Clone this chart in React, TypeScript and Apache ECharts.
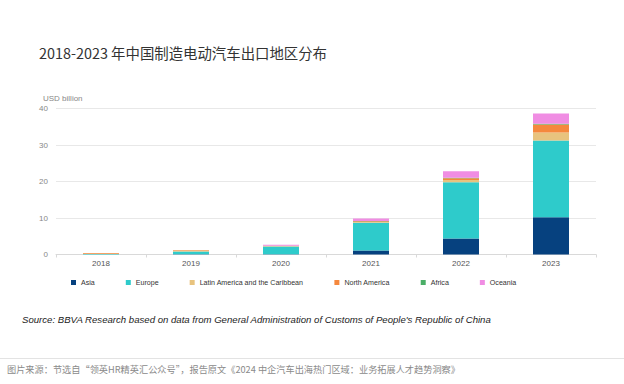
import React, { useEffect, useRef } from "react";
import * as echarts from "echarts";

const years = ["2018", "2019", "2020", "2021", "2022", "2023"];
const asia = [0.02, 0.1, 0.1, 1.1, 4.4, 10.2];
const europe = [0.1, 0.7, 2.1, 7.6, 15.4, 21.0];
const latam = [0.1, 0.3, 0.1, 0.2, 0.6, 2.2];
const northAmerica = [0.2, 0.1, 0.1, 0.2, 0.5, 2.2];
const africa = [0.0, 0.0, 0.0, 0.05, 0.1, 0.2];
const oceania = [0.0, 0.05, 0.3, 0.7, 1.8, 2.8];
const yTicks = [0, 10, 20, 30, 40];

const seriesDefs = [
  { name: "Asia", data: asia, color: "#06417F" },
  { name: "Europe", data: europe, color: "#2ECBCB" },
  { name: "Latin America and the Caribbean", data: latam, color: "#E8C37E" },
  { name: "North America", data: northAmerica, color: "#F5883D" },
  { name: "Africa", data: africa, color: "#4BAE67" },
  { name: "Oceania", data: oceania, color: "#F08DE3" },
];

export default function App() {
  const ref = useRef<HTMLDivElement>(null);
  useEffect(() => {
    if (!ref.current) return;
    const chart = echarts.init(ref.current, undefined, { renderer: "svg" });
    chart.setOption({
      animation: false,
      backgroundColor: "#ffffff",
      title: {
        text: "2018-2023 年中国制造电动汽车出口地区分布",
        left: 39,
        top: 45,
        padding: 0,
        textStyle: {
          fontFamily: "Noto Sans CJK SC",
          fontSize: 14.4,
          fontWeight: "normal",
          color: "#333333",
        },
      },
      legend: {
        data: seriesDefs.map((s) => s.name),
        left: 71,
        top: 279,
        padding: 0,
        icon: "rect",
        itemWidth: 5,
        itemHeight: 5,
        itemGap: 31,
        textStyle: {
          fontFamily: "Liberation Sans, Arial, sans-serif",
          fontSize: 7.1,
          color: "#333333",
        },
      },
      grid: {
        left: 56,
        right: 28,
        top: 108.5,
        bottom: 129.5,
        containLabel: false,
      },
      xAxis: {
        type: "category",
        data: years,
        axisLine: { lineStyle: { color: "#d9d9d9", width: 1 } },
        axisTick: { show: true, length: 3, lineStyle: { color: "#d9d9d9" } },
        axisLabel: {
          margin: 5,
          fontFamily: "Liberation Sans, Arial, sans-serif",
          fontSize: 8,
          color: "#555555",
        },
      },
      yAxis: {
        type: "value",
        min: yTicks[0],
        max: yTicks[yTicks.length - 1],
        interval: 10,
        name: "USD billion",
        nameLocation: "end",
        nameGap: 6,
        nameTextStyle: {
          align: "left",
          padding: [0, 0, 0, -13],
          fontFamily: "Liberation Sans, Arial, sans-serif",
          fontSize: 8,
          color: "#888888",
        },
        axisLine: { show: false },
        axisTick: { show: false },
        axisLabel: {
          margin: 8,
          fontFamily: "Liberation Sans, Arial, sans-serif",
          fontSize: 8,
          color: "#888888",
        },
        splitLine: { lineStyle: { color: "#e8e8e8", width: 1 } },
      },
      series: seriesDefs.map((s) => ({
        name: s.name,
        type: "bar",
        stack: "total",
        barWidth: 36,
        data: s.data,
        itemStyle: { color: s.color },
      })),
      graphic: [
        {
          type: "text",
          left: 22,
          top: 314.5,
          style: {
            text: "Source: BBVA Research based on data from General Administration of Customs of People's Republic of China",
            font: "italic 9.6px 'Liberation Sans', Arial, sans-serif",
            fill: "#222222",
          },
        },
        {
          type: "line",
          shape: { x1: 0, y1: 358.5, x2: 624, y2: 358.5 },
          style: { stroke: "#e3e3e3", lineWidth: 1 },
        },
        {
          type: "text",
          left: 7,
          top: 364,
          style: {
            text: "图片来源：节选自“领英HR精英汇公众号”，报告原文《2024 中企汽车出海热门区域：业务拓展人才趋势洞察》",
            font: "9.2px 'Noto Sans CJK SC', sans-serif",
            fill: "#8a8a8a",
          },
        },
      ],
    });
    return () => chart.dispose();
  }, []);
  return (
    <div
      ref={ref}
      style={{ position: "fixed", left: 0, top: 0, width: 624, height: 384 }}
    />
  );
}
